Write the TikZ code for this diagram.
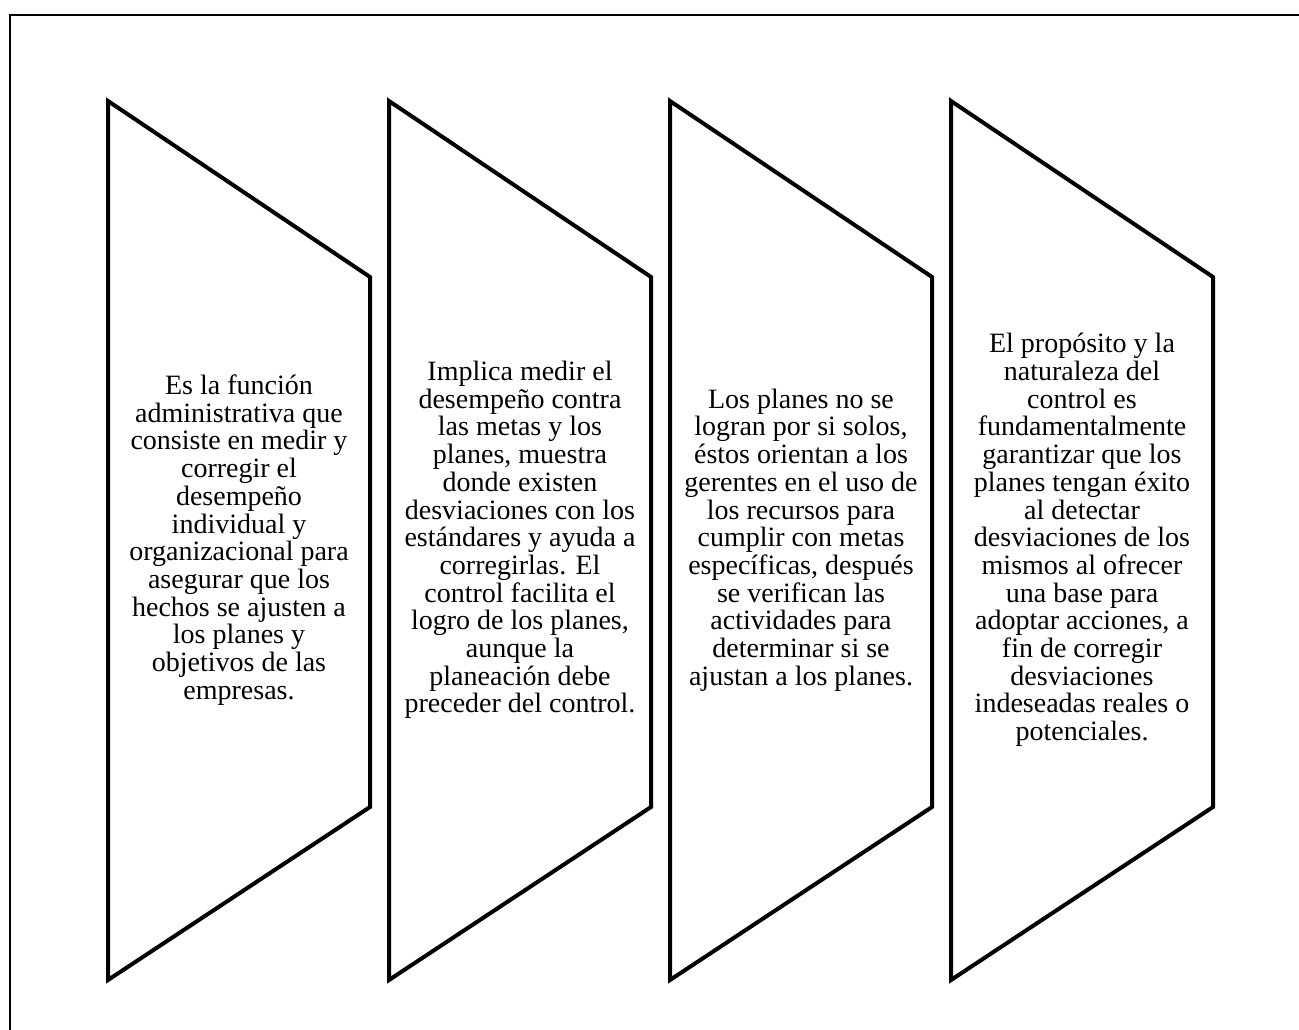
\documentclass[tikz,border=0pt]{standalone}
\usepackage{fontspec}
\setmainfont{Liberation Serif}
\begin{document}
\tikzstyle{texto}=[align=center, inner sep=0pt, font=\fontsize{28}{27.7}\selectfont, node distance=281pt]
\tikzstyle{forma}=[draw=black, line width=4pt]
\begin{tikzpicture}[x=1pt,y=-1pt]
\useasboundingbox (0,0) rectangle (1299,1030);
\draw [line width=2.5pt] (1299,15) -- (10,15) -- (10,1030);

\foreach \i in {0,...,3}
	\draw [forma] ({108+281*\i},101) -- ++(262,176) -- ++(0,530) -- ({108+281*\i},980) -- cycle;

\node [texto] (T1) at (239,540) {Es la función\\ administrativa que\\ consiste en medir y\\ corregir el\\ desempeño\\ individual y\\ organizacional para\\ asegurar que los\\ hechos se ajusten a\\ los planes y\\ objetivos de las\\ empresas.};
\node [texto, right of=T1] (T2) {Implica medir el\\ desempeño contra\\ las metas y los\\ planes, muestra\\ donde existen\\ desviaciones con los\\ estándares y ayuda a\\ corregirlas. El\\ control facilita el\\ logro de los planes,\\ aunque la\\ planeación debe\\ preceder del control.};
\node [texto, right of=T2] (T3) {Los planes no se\\ logran por si solos,\\ éstos orientan a los\\ gerentes en el uso de\\ los recursos para\\ cumplir con metas\\ específicas, después\\ se verifican las\\ actividades para\\ determinar si se\\ ajustan a los planes.};
\node [texto, right of=T3] (T4) {El propósito y la\\ naturaleza del\\ control es\\ fundamentalmente\\ garantizar que los\\ planes tengan éxito\\ al detectar\\ desviaciones de los\\ mismos al ofrecer\\ una base para\\ adoptar acciones, a\\ fin de corregir\\ desviaciones\\ indeseadas reales o\\ potenciales.};
\end{tikzpicture}
\end{document}
